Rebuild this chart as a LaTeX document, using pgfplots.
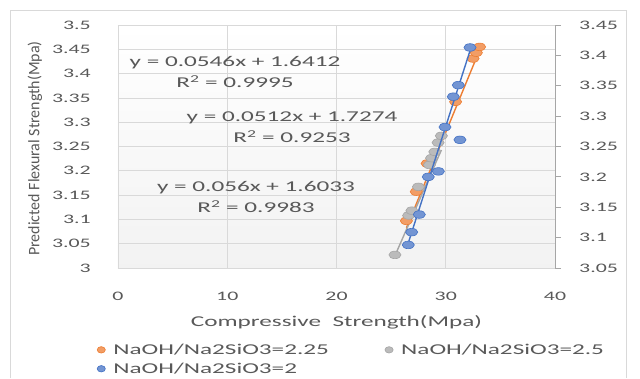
\documentclass[border=0pt]{standalone}
\usepackage{fontspec}
\setmainfont{Carlito}[FakeStretch=1.68]
\newfontfamily\ylabfont{Carlito}
\usepackage{pgfplots}
\pgfplotsset{compat=1.18}
\definecolor{cor}{HTML}{ED7D31}
\definecolor{cgr}{HTML}{A5A5A5}
\definecolor{cbl}{HTML}{4472C4}
\definecolor{ctx}{HTML}{595959}
\definecolor{cgrid}{HTML}{D9D9D9}
\definecolor{cax}{HTML}{A6A6A6}
\pgfplotstableread{
x y
26.4 3.097
27.3 3.157
28.3 3.215
30.9 3.342
32.5 3.431
32.8 3.443
33.1 3.455
}\orange
\pgfplotstableread{
x y
25.35 3.027
26.6 3.108
26.9 3.118
27.5 3.167
28.5 3.212
28.7 3.226
29.0 3.239
29.3 3.258
29.6 3.272
}\gray
\pgfplotstableread{
x y
26.57 3.088
26.88 3.109
27.58 3.138
28.40 3.200
29.32 3.209
29.93 3.282
31.30 3.261
30.69 3.332
31.15 3.351
32.22 3.413
}\blue
\begin{document}
\begin{tikzpicture}[x=1pt,y=1pt]
\path[use as bounding box] (0pt,0pt) rectangle (640pt,378pt);
\draw[cgrid, line width=0.8pt] (10pt,0pt) -- (10pt,368pt) -- (626pt,368pt) -- (626pt,0pt);
\begin{axis}[
  at={(118pt,110pt)}, anchor=south west, scale only axis,
  width=437pt, height=243pt,
  xmin=0, xmax=40, ymin=3, ymax=3.5,
  xtick={0,10,20,30,40}, xticklabels={0,10,20,30,40},
  ytick={3,3.05,3.1,3.15,3.2,3.25,3.3,3.35,3.4,3.45,3.5},
  yticklabels={3,3.05,3.1,3.15,3.2,3.25,3.3,3.35,3.4,3.45,3.5},
  grid=major, grid style={cgrid, line width=0.8pt},
  axis line style={draw=none}, major tick length=0pt,
  axis background/.style={top color=white, bottom color=black!5},
  tick label style={font=\fontsize{13}{15}\selectfont, text=ctx, inner sep=0pt},
  yticklabel style={anchor=east, xshift=-27pt},
  xticklabel style={anchor=north, yshift=-24pt},
  xlabel={Compressive\ \ Strength(Mpa)},
  xlabel style={at={(axis description cs:0.5,0)}, anchor=center, yshift=-54pt,
    font=\fontsize{15}{17}\selectfont, text=ctx},
  ylabel={Predicted Flexural Strength(Mpa)},
  ylabel style={at={(axis description cs:0,0.5)}, anchor=center, yshift=83pt, xshift=-2pt,
    font=\ylabfont\fontsize{16}{18}\selectfont, text=ctx},
  legend columns=2,
  legend image code/.code={\draw[#1, mark size=3.2pt, /tikz/every mark/.append style={xscale=0.8}] plot coordinates {(4pt,0pt)};},
  legend style={at={(axis description cs:-0.055,-0.295)}, anchor=north west,
    draw=none, fill=none, font=\fontsize{15}{17}\selectfont, text=ctx,
    nodes={inner sep=2pt}, row sep=3pt,
    /tikz/every odd column/.append style={column sep=6pt},
    /tikz/every even column/.append style={column sep=54pt}},
  legend cell align=left,
]
\addplot[cor, line width=1.4pt, forget plot] coordinates {(26.4,3.0826) (33.1,3.4485)};
\addplot[cgr, line width=1.4pt, forget plot] coordinates {(25.35,3.0253) (29.6,3.2429)};
\addplot[only marks, mark=*, mark size=3.8pt, mark options={xscale=1.6, fill=cor!75!white, draw=cor, line width=0.6pt}] table[x=x,y=y] {\orange};
\addlegendentry{NaOH/Na2SiO3=2.25}
\addplot[only marks, mark=*, mark size=3.8pt, mark options={xscale=1.6, fill=cgr!75!white, draw=cgr, line width=0.6pt}] table[x=x,y=y] {\gray};
\addlegendentry{NaOH/Na2SiO3=2.5}
\addlegendimage{only marks, mark=*, mark size=3.8pt, mark options={xscale=1.6, fill=cbl!75!white, draw=cbl, line width=0.6pt}}
\addlegendentry{NaOH/Na2SiO3=2}
\end{axis}
\begin{axis}[
  at={(118pt,110pt)}, anchor=south west, scale only axis,
  width=437pt, height=243pt,
  xmin=0, xmax=40, ymin=3.05, ymax=3.45,
  axis x line=none, axis y line*=right,
  ytick={3.05,3.1,3.15,3.2,3.25,3.3,3.35,3.4,3.45},
  yticklabels={3.05,3.1,3.15,3.2,3.25,3.3,3.35,3.4,3.45},
  axis line style={cax, line width=0.8pt}, tick style={cax, line width=0.8pt},
  tick align=outside, major tick length=6pt,
  tick label style={font=\fontsize{13}{15}\selectfont, text=ctx, inner sep=0pt},
  yticklabel style={anchor=west, xshift=18pt},
]
\addplot[cbl, line width=1.4pt] coordinates {(26.57,3.0912) (32.22,3.4076)};
\addplot[only marks, mark=*, mark size=3.8pt, mark options={xscale=1.6, fill=cbl!75!white, draw=cbl, line width=0.6pt}] table[x=x,y=y] {\blue};
\end{axis}
\begin{scope}[every node/.style={font=\fontsize{15}{17}\selectfont, text=ctx, inner sep=0pt}]
\node at (235pt,315pt) {y = 0.0546x + 1.6412};
\node at (235pt,296pt) {R\textsuperscript{2} = 0.9995};
\node at (292pt,260pt) {y = 0.0512x + 1.7274};
\node at (292pt,241pt) {R\textsuperscript{2} = 0.9253};
\node at (256pt,190pt) {y = 0.056x + 1.6033};
\node at (256pt,171pt) {R\textsuperscript{2} = 0.9983};
\end{scope}
\end{tikzpicture}
\end{document}
